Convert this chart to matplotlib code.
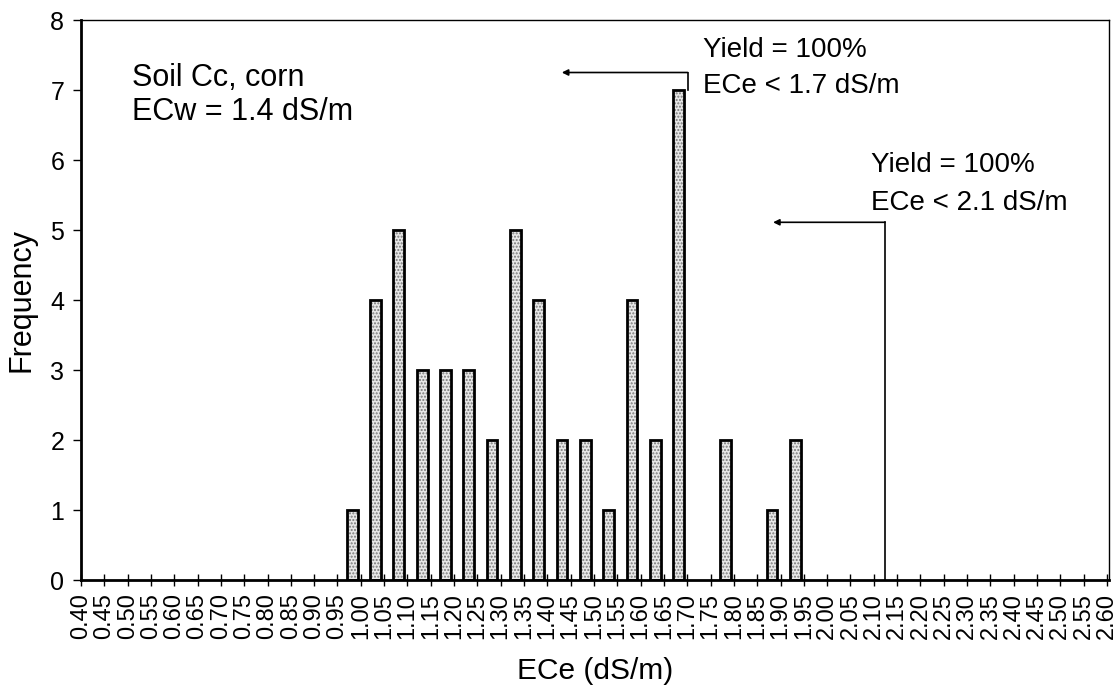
import numpy as np
import matplotlib
matplotlib.use('Agg')
import matplotlib.pyplot as plt

plt.rcParams['font.family'] = ['Liberation Sans', 'DejaVu Sans']

# histogram bins (lower edge, dS/m) and counts
bin_lower = [0.95, 1.00, 1.05, 1.10, 1.15, 1.20, 1.25, 1.30, 1.35, 1.40,
             1.45, 1.50, 1.55, 1.60, 1.65, 1.70, 1.75, 1.80, 1.85, 1.90]
counts = [1, 4, 5, 3, 3, 3, 2, 5, 4, 2,
          2, 1, 4, 2, 7, 0, 2, 0, 1, 2]

tick_vals = [round(0.40 + 0.05 * i, 2) for i in range(45)]
tick_labels = [f"{v:.2f}" for v in tick_vals]
y_ticks = [0, 1, 2, 3, 4, 5, 6, 7, 8]

fig = plt.figure(figsize=(11.19, 6.91), dpi=100)
ax = fig.add_axes([81/1119, 1 - 580/691, 1028/1119, 560/691])

bl = np.array(bin_lower)
ct = np.array(counts)
keep = ct > 0
# stippled fill, then the thick outline on top
ax.bar(bl[keep] + 0.02, ct[keep], width=0.023, align='edge',
       facecolor='#e8e8e8', edgecolor='#7a7a7a', hatch='.....', linewidth=0, zorder=2)
ax.bar(bl[keep] + 0.02, ct[keep], width=0.023, align='edge',
       fill=False, edgecolor='black', linewidth=2.0, zorder=3)

ax.set_xlim(0.40, 2.6043)
ax.set_ylim(0, 8)
ax.set_xticks(tick_vals)
ax.set_xticklabels(tick_labels, rotation=90, fontsize=17)
ax.set_yticks(y_ticks)
ax.set_yticklabels([str(v) for v in y_ticks], fontsize=18)
ax.tick_params(axis='x', direction='inout', length=9, width=1, pad=5)
ax.tick_params(axis='y', direction='out', length=6, width=1, pad=6)

for s in ['left', 'bottom']:
    ax.spines[s].set_linewidth(2)
for s in ['top', 'right']:
    ax.spines[s].set_linewidth(1)

ax.set_xlabel("ECe (dS/m)", fontsize=21.5, labelpad=13)
ax.set_ylabel("Frequency", fontsize=22, labelpad=10)

ax.text(0.509, 7.057, "Soil Cc, corn", fontsize=22, va='baseline')
ax.text(0.509, 6.571, "ECw = 1.4 dS/m", fontsize=22, va='baseline')

ax.text(1.734, 7.476, "Yield = 100%", fontsize=20, va='baseline')
ax.text(1.734, 6.953, "ECe < 1.7 dS/m", fontsize=20, va='baseline')
ax.text(2.094, 5.833, "Yield = 100%", fontsize=20, va='baseline')
ax.text(2.094, 5.286, "ECe < 2.1 dS/m", fontsize=20, va='baseline')

arr = dict(arrowstyle='-|>', lw=1.2, color='black', mutation_scale=9,
           shrinkA=0, shrinkB=0)
ax.plot([1.701, 1.701], [7.0, 7.25], color='black', lw=1.2)
ax.annotate('', xy=(1.431, 7.25), xytext=(1.701, 7.25), arrowprops=arr)
ax.plot([2.124, 2.124], [0, 5.11], color='black', lw=1.2)
ax.annotate('', xy=(1.884, 5.11), xytext=(2.124, 5.11), arrowprops=arr)

fig.savefig("out.png", dpi=100)
